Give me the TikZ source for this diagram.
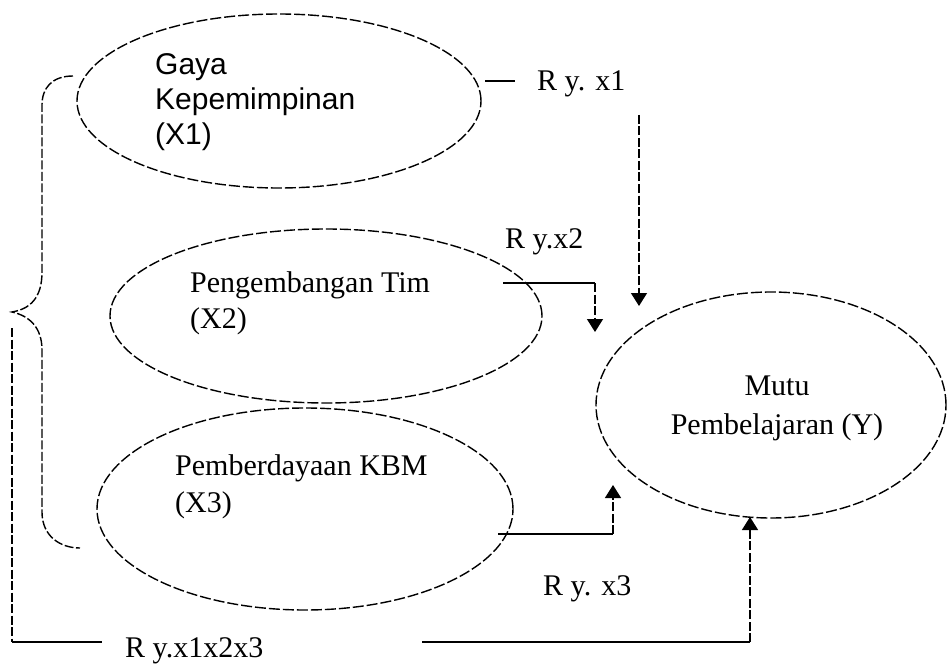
\documentclass[tikz,border=0pt]{standalone}
\usepackage{fontspec}
\setmainfont{Liberation Serif}
\newfontfamily\arialfont{Liberation Sans}
\usetikzlibrary{shapes.geometric,arrows.meta}
\tikzset{
  oval/.style={draw, ellipse, line width=1.4pt, dash pattern=on 11pt off 3pt, inner sep=0pt},
  txt/.style={inner sep=0pt, font=\fontsize{30}{36}\selectfont},
  dline/.style={line width=1.4pt, dash pattern=on 9pt off 2.5pt},
  sline/.style={line width=1.4pt},
  tip/.style={-{Triangle[width=16pt,length=13pt]}},
}
\begin{document}
\begin{tikzpicture}[x=1pt,y=-1pt]
\useasboundingbox (0,0) rectangle (948,666);
% ellipses
\node[oval, minimum width=404pt, minimum height=174pt] (x1) at (279,101) {};
\node[oval, minimum width=432pt, minimum height=174pt] (x2) at (326,316) {};
\node[oval, minimum width=416pt, minimum height=202pt] (x3) at (305,509) {};
\node[oval, minimum width=350pt, minimum height=226pt] (y) at (771,405) {};
% texts
\node[txt, anchor=north west, align=left, font=\arialfont\fontsize{30}{35}\selectfont] (t1) at (155,53) {Gaya\\Kepemimpinan\\(X1)};
\node[txt, anchor=north west, align=left, font=\fontsize{30}{36}\selectfont] (t2) at (190,271) {Pengembangan Tim\\(X2)};
\node[txt, anchor=north west, align=left, font=\fontsize{30}{37}\selectfont] (t3) at (175,454) {Pemberdayaan KBM\\(X3)};
\node[txt, anchor=north, align=center, font=\fontsize{30}{39}\selectfont] (ty) at (777,376) {Mutu\\Pembelajaran (Y)};
% labels
\node[txt, anchor=base west] (r1) at (537,91) {R y. x1};
\node[txt, anchor=base west] (r2) at (505,248) {R y.x2};
\node[txt, anchor=base west] (r3) at (543,595) {R y. x3};
\node[txt, anchor=base west] (r123) at (125,657) {R y.x1x2x3};
% coordinates
\coordinate (a1s) at (485,81);
\coordinate (a1e) at (515,81);
\coordinate (d1s) at (639,115);
\coordinate (d1e) at (639,306);
\coordinate (a2s) at (503,283);
\coordinate (a2c) at (595,283);
\coordinate (a2e) at (595,332);
\coordinate (a3s) at (498,534);
\coordinate (a3c) at (613,534);
\coordinate (a3e) at (613,485);
\coordinate (b1) at (12,328);
\coordinate (b2) at (12,642);
\coordinate (b3) at (102,642);
\coordinate (b4) at (422,642);
\coordinate (b5) at (750,642);
\coordinate (b6) at (750,517);
% connectors
\draw[sline] (a1s) -- (a1e);
\draw[dline, tip] (d1s) -- (d1e);
\draw[sline] (a2s) -- (a2c);
\draw[dline, tip] (a2c) -- (a2e);
\draw[sline] (a3s) -- (a3c);
\draw[dline, tip] (a3c) -- (a3e);
\draw[dline] (b1) -- (b2);
\draw[sline] (b2) -- (b3);
\draw[sline] (b4) -- (b5);
\draw[dline, tip] (b5) -- (b6);
% brace
\draw[dline] (73,76) .. controls (52,76) and (42,88) .. (42,105) -- (42,272)
  .. controls (42,298) and (30,309) .. (12,312)
  .. controls (30,316) and (42,328) .. (42,350) -- (42,512)
  .. controls (42,536) and (60,548) .. (80,548);
\end{tikzpicture}
\end{document}
